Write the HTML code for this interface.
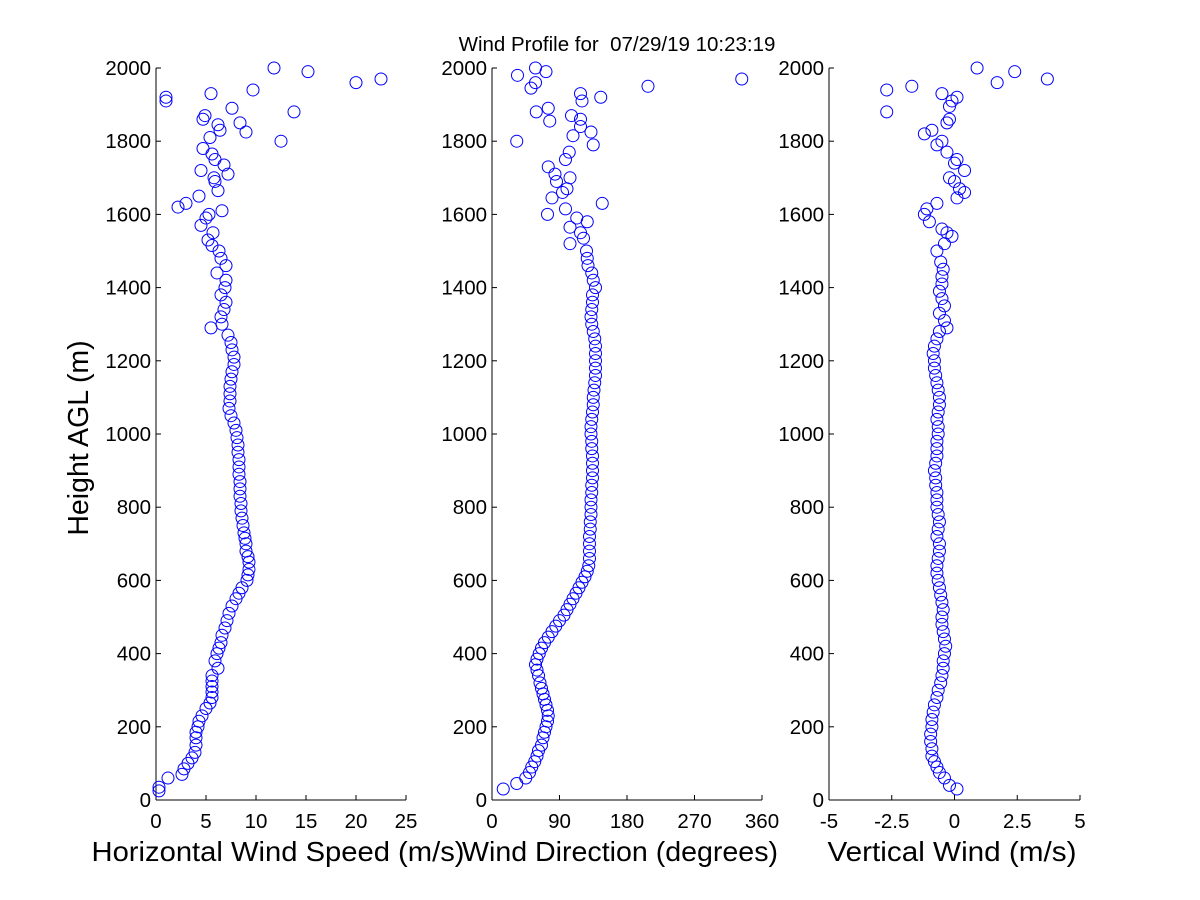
<!DOCTYPE html>
<html><head><meta charset="utf-8"><style>
body{margin:0;background:#fff;}
svg{display:block;font-family:"Liberation Sans",sans-serif;}
</style></head><body>
<svg id="chart" width="1200" height="900" viewBox="0 0 1200 900">
<rect width="1200" height="900" fill="#fff"/>
<text x="617" y="51" font-size="20.5" text-anchor="middle" style="white-space:pre">Wind Profile for  07/29/19 10:23:19</text>
<text x="0" y="0" font-size="28.5" text-anchor="middle" transform="translate(88,438) rotate(-90)">Height AGL (m)</text>
</svg>
<script>
const speedH=[25,35,60,70,85,100,115,130,150,170,185,200,215,230,250,265,280,295,310,325,340,360,380,400,415,430,450,470,490,510,530,550,565,580,600,615,630,650,665,680,700,715,730,750,770,790,810,830,850,870,890,910,930,950,970,990,1010,1030,1050,1070,1090,1110,1130,1150,1170,1190,1210,1230,1250,1270,1290,1300,1320,1340,1360,1380,1400,1420,1440,1460,1480,1500,1515,1530,1550,1570,1590,1600,1610,1620,1630,1650,1665,1690,1700,1710,1720,1735,1750,1765,1780,1800,1810,1825,1830,1845,1850,1860,1870,1880,1890,1910,1920,1930,1940,1960,1970,1990,2000];
const speedV=[0.3,0.3,1.2,2.6,2.8,3.2,3.6,3.9,4.0,4.0,4.0,4.2,4.3,4.6,5.0,5.4,5.6,5.6,5.6,5.6,5.6,6.2,5.9,6.1,6.3,6.5,6.6,6.9,7.1,7.3,7.6,8.0,8.3,8.6,9.1,9.2,9.3,9.3,9.2,9.0,9.0,8.9,8.8,8.7,8.6,8.5,8.5,8.4,8.4,8.4,8.3,8.3,8.3,8.2,8.2,8.1,8.0,7.8,7.5,7.3,7.4,7.4,7.4,7.5,7.6,7.8,7.8,7.6,7.5,7.2,5.5,6.6,6.5,6.8,7.0,6.5,6.9,7.0,6.1,7.0,6.5,6.3,5.6,5.2,5.7,4.5,5.0,5.3,6.6,2.2,3.0,4.3,6.2,5.9,5.8,7.2,4.5,6.8,5.9,5.6,4.7,12.5,5.4,9.0,6.4,6.2,8.4,4.7,4.9,13.8,7.6,1.0,1.0,5.5,9.7,20.0,22.5,15.2,11.8];
const dirH=[30,45,60,75,90,105,120,135,150,170,185,200,215,230,245,260,275,290,305,320,340,355,370,385,400,415,430,445,460,475,490,505,520,535,550,565,580,595,610,625,640,660,680,700,720,740,760,780,800,820,840,860,880,900,920,940,960,980,1000,1020,1040,1060,1080,1100,1120,1140,1160,1180,1200,1220,1240,1260,1280,1300,1320,1340,1360,1380,1400,1420,1440,1460,1480,1500,1520,1535,1550,1565,1580,1590,1600,1615,1630,1645,1660,1670,1690,1700,1710,1730,1750,1770,1790,1800,1815,1825,1840,1855,1860,1870,1880,1890,1910,1920,1930,1945,1950,1960,1970,1980,1990,2000];
const dirV=[15,33,45,50,53,57,60,62,66,68,70,72,74,75,74,72,70,68,66,64,62,60,58,60,63,66,70,75,80,85,90,96,100,104,108,112,116,120,124,127,129,130,130,130,130,131,131,132,132,132,133,133,134,134,134,134,133,133,132,132,133,134,135,135,136,137,138,138,138,138,138,137,135,133,132,133,134,134,138,135,133,128,127,126,104,122,118,104,127,113,74,98,147,80,94,100,86,104,84,75,98,103,135,33,108,132,118,77,118,106,59,75,120,145,118,52,208,58,333,34,72,58];
const vertH=[30,40,60,75,90,105,120,140,160,180,200,220,240,260,280,300,320,340,360,380,400,420,440,460,480,500,520,540,560,580,600,620,640,660,680,700,720,740,760,780,800,820,840,860,880,900,920,940,960,980,1000,1020,1040,1060,1080,1100,1120,1140,1160,1180,1200,1220,1240,1260,1280,1290,1310,1330,1350,1370,1390,1410,1430,1450,1470,1500,1520,1540,1550,1560,1580,1600,1615,1630,1645,1660,1670,1690,1700,1720,1740,1750,1770,1790,1800,1820,1830,1850,1860,1880,1895,1910,1920,1930,1940,1950,1960,1970,1990,2000];
const vertV=[0.1,-0.2,-0.4,-0.6,-0.7,-0.8,-0.9,-0.9,-0.95,-0.95,-0.9,-0.9,-0.85,-0.8,-0.7,-0.65,-0.55,-0.5,-0.45,-0.45,-0.4,-0.35,-0.4,-0.45,-0.5,-0.5,-0.45,-0.5,-0.55,-0.6,-0.65,-0.7,-0.7,-0.65,-0.6,-0.6,-0.7,-0.65,-0.6,-0.65,-0.7,-0.7,-0.7,-0.75,-0.75,-0.8,-0.75,-0.7,-0.7,-0.7,-0.65,-0.65,-0.7,-0.65,-0.6,-0.6,-0.65,-0.7,-0.75,-0.8,-0.8,-0.85,-0.8,-0.7,-0.6,-0.3,-0.4,-0.6,-0.4,-0.5,-0.6,-0.5,-0.5,-0.45,-0.55,-0.7,-0.4,-0.1,-0.3,-0.5,-1.0,-1.2,-1.1,-0.7,0.1,0.4,0.2,0.0,-0.2,0.4,0.0,0.1,-0.3,-0.7,-0.5,-1.2,-0.9,-0.3,-0.2,-2.7,-0.2,-0.1,0.1,-0.5,-2.7,-1.7,1.7,3.7,2.4,0.9];
const yTicks=[0,200,400,600,800,1000,1200,1400,1600,1800,2000];
const speedTicks=[0,5,10,15,20,25];
const dirTicks=[0,90,180,270,360];
const vertTicks=[-5,-2.5,0,2.5,5];
const vertTickLabels=["-5","-2.5","0","2.5","5"];

const svg=document.getElementById('chart');
const NS='http://www.w3.org/2000/svg';
const yScale=h=>800-(h/2000)*732;
function mk(tag,attrs){const e=document.createElementNS(NS,tag);for(const k in attrs)e.setAttribute(k,attrs[k]);svg.appendChild(e);return e;}

const panels=[
 {name:'speed',x0:156,x1:406,min:0,max:25,ticks:speedTicks,labels:speedTicks.map(String),H:speedH,V:speedV,title:'Horizontal Wind Speed (m/s)',tx:278,tl:373},
 {name:'direction',x0:492,x1:762,min:0,max:360,ticks:dirTicks,labels:dirTicks.map(String),H:dirH,V:dirV,title:'Wind Direction (degrees)',tx:620,tl:316},
 {name:'vertical',x0:829,x1:1080,min:-5,max:5,ticks:vertTicks,labels:vertTickLabels,H:vertH,V:vertV,title:'Vertical Wind (m/s)',tx:952,tl:249}
];
panels.forEach(p=>{
 const xs=v=>p.x0+(v-p.min)/(p.max-p.min)*(p.x1-p.x0);
 let e=mk('line',{x1:p.x0,y1:68,x2:p.x0,y2:800,stroke:'#000','stroke-width':1});
 
 
 e=mk('line',{x1:p.x0,y1:800,x2:p.x1,y2:800,stroke:'#000','stroke-width':1});
 
 
 yTicks.forEach(t=>{
  const y=yScale(t);
  let l=mk('line',{x1:p.x0,y1:y,x2:p.x0+5,y2:y,stroke:'#000'});
  
  
  let tx=mk('text',{x:p.x0-5,y:y+7,'font-size':20.5,'text-anchor':'end'});
  tx.textContent=t;
  
  
 });
 p.ticks.forEach((t,i)=>{
  const x=xs(t);
  let l=mk('line',{x1:x,y1:800,x2:x,y2:795,stroke:'#000'});
  
  
  let tx=mk('text',{x:x,y:828,'font-size':20.5,'text-anchor':'middle'});
  tx.textContent=p.labels[i];
  
  
 });
 let tt=mk('text',{x:p.tx,y:861,'font-size':28,'text-anchor':'middle',textLength:p.tl,lengthAdjust:'spacingAndGlyphs'});
 tt.textContent=p.title;
 
 
 p.H.forEach((h,i)=>{
  const c=mk('circle',{cx:xs(p.V[i]),cy:yScale(h),r:6,fill:'none',stroke:'#0000ff','stroke-width':1});
  
  
 });
});
</script>
</body></html>
